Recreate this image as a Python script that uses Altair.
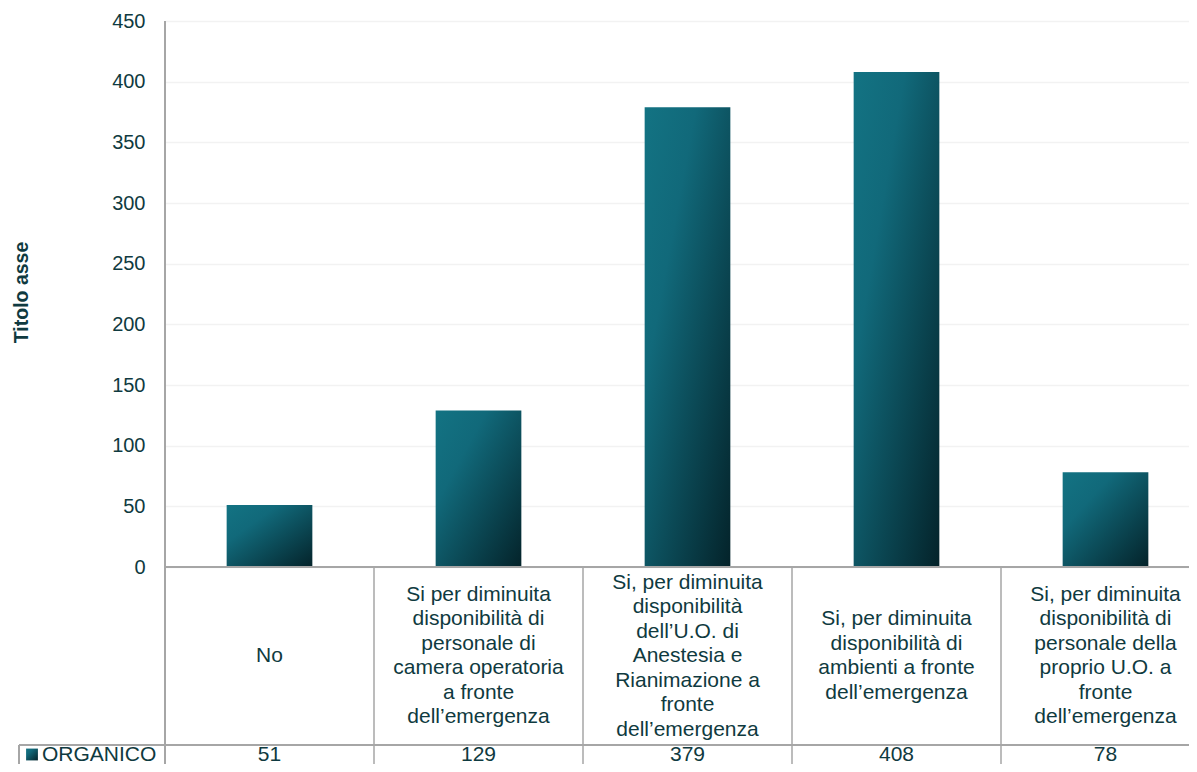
import altair as alt
import pandas as pd

categories = [
    "No",
    "Si per diminuita\ndisponibilità di\npersonale di\ncamera operatoria\na fronte\ndell\u2019emergenza",
    "Si, per diminuita\ndisponibilità\ndell\u2019U.O. di\nAnestesia e\nRianimazione a\nfronte\ndell\u2019emergenza",
    "Si, per diminuita\ndisponibilità di\nambienti a fronte\ndell\u2019emergenza",
    "Si, per diminuita\ndisponibilità di\npersonale della\nproprio U.O. a\nfronte\ndell\u2019emergenza",
]
keys = ["c1", "c2", "c3", "c4", "c5"]
values = [51, 129, 379, 408, 78]
series_name = "ORGANICO"
y_ticks = [0, 50, 100, 150, 200, 250, 300, 350, 400, 450]

df = pd.DataFrame({"key": keys, "label": categories, "value": values,
                   "vtxt": [str(v) for v in values]})
div_df = pd.DataFrame({"key": keys[1:]})

TXT = "#0f3a40"
GRID_LINE = "#a6a6a6"
FONT = "Liberation Sans"
LH = 24.5

grad = alt.Gradient(
    gradient="linear",
    stops=[
        alt.GradientStop(color="#137383", offset=0),
        alt.GradientStop(color="#11697a", offset=0.3),
        alt.GradientStop(color="#04232a", offset=1),
    ],
    x1=0, y1=0, x2=1, y2=1,
)

xs = alt.Scale(domain=keys, range=[0, 1045], paddingInner=0, paddingOuter=0)
ys = alt.Scale(domain=[0, 450], range=[546, 0])

bars = alt.Chart(df).mark_bar(color=grad, width={"band": 0.41}).encode(
    x=alt.X("key:N", scale=xs, axis=None, sort=keys),
    y=alt.Y("value:Q", scale=ys,
            axis=alt.Axis(values=y_ticks, title="Titolo asse", titleFont=FONT,
                          titleFontSize=19.5, titleFontWeight="bold", titleColor=TXT,
                          titleX=-144, titleY=271, titleAngle=270, titleAlign="center",
                          titleBaseline="middle",
                          labelFont=FONT, labelFontSize=20,
                          labelColor=TXT, labelPadding=20, ticks=False, domain=False,
                          grid=True, gridColor="#f2f2f2", gridWidth=1.5)),
)

ROW_Y = 733.5

xline = alt.Chart(df).mark_rule(color=GRID_LINE, strokeWidth=2).encode(
    x=alt.value(0), x2=alt.value(1045), y=alt.value(546))
yline = alt.Chart(df).mark_rule(color=GRID_LINE, strokeWidth=1.5).encode(
    x=alt.value(0), y=alt.value(0), y2=alt.value(760))
hline = alt.Chart(df).mark_rule(color=GRID_LINE, strokeWidth=1.5).encode(
    x=alt.value(-146), x2=alt.value(1045), y=alt.value(724))
lline = alt.Chart(df).mark_rule(color=GRID_LINE, strokeWidth=1.5).encode(
    x=alt.value(-146), y=alt.value(724), y2=alt.value(760))
dividers = alt.Chart(div_df).mark_rule(color=GRID_LINE, strokeWidth=1.5).encode(
    x=alt.X("key:N", scale=xs, bandPosition=0, axis=None, sort=keys),
    y=alt.value(546), y2=alt.value(760))

labels = alt.Chart(df).transform_calculate(
    nl="split(datum.label, '\\n').length"
).transform_calculate(
    ty=f"635 - (datum.nl - 1) * {LH / 2}"
).mark_text(font=FONT, fontSize=21, color=TXT, lineBreak="\n",
            lineHeight=LH, align="center", baseline="middle").encode(
    x=alt.X("key:N", scale=xs, bandPosition=0.5, axis=None, sort=keys),
    y=alt.Y("ty:Q", scale=None, axis=None), text="label:N")

vals = alt.Chart(df).mark_text(font=FONT, fontSize=21, color=TXT,
                               align="center", baseline="middle").encode(
    x=alt.X("key:N", scale=xs, bandPosition=0.5, axis=None, sort=keys),
    y=alt.value(ROW_Y), text="vtxt:N")

leg_df = pd.DataFrame({"name": [series_name]})
leg_sq = alt.Chart(leg_df).mark_square(size=140, color=grad, opacity=1).encode(
    x=alt.value(-133), y=alt.value(ROW_Y))
leg_txt = alt.Chart(leg_df).mark_text(font=FONT, fontSize=21, color=TXT,
                                      align="left", baseline="middle").encode(
    x=alt.value(-123), y=alt.value(ROW_Y), text="name:N")

chart = alt.layer(bars, xline, yline, hline, lline, dividers, labels, vals,
                  leg_sq, leg_txt).properties(
    width=1024, height=743,
    autosize=alt.AutoSizeParams(type="none"),
    padding={"left": 157, "top": 13, "right": 0, "bottom": 0},
).configure_view(stroke=None).configure(background="white")

chart.save("out.html", embed_options={"renderer": "svg", "actions": False})
